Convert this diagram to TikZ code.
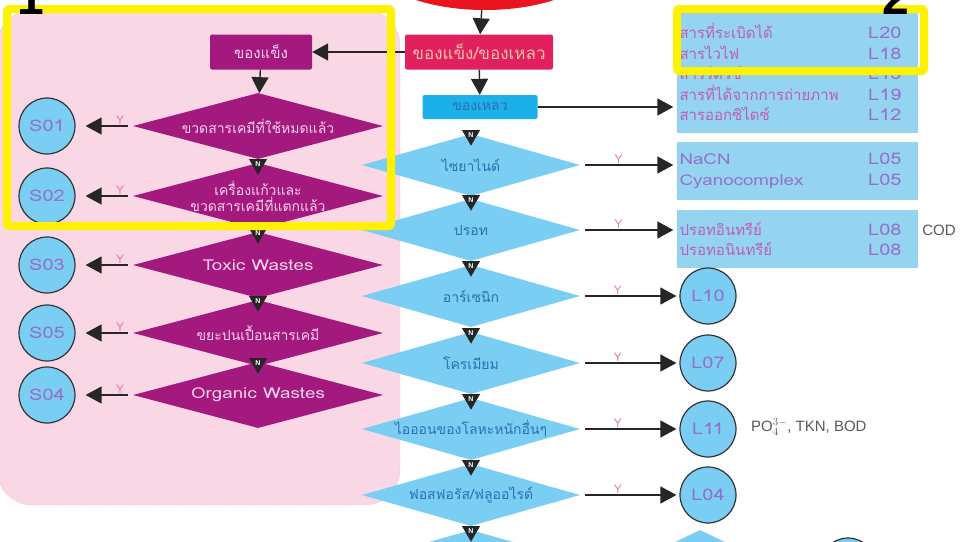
\documentclass[tikz,border=0pt]{standalone}
\usepackage{fontspec}
\setmainfont{Liberation Sans}
\newfontfamily\thai[Script=Thai]{Loma}
\newfontfamily\wide[FakeStretch=1.25]{Loma}
\usetikzlibrary{shapes.geometric,arrows.meta,calc}
\definecolor{pinkbg}{HTML}{F9D7E5}
\definecolor{plum}{HTML}{A3197E}
\definecolor{blush}{HTML}{F6D2EC}
\definecolor{crimson}{HTML}{E2205E}
\definecolor{peach}{HTML}{F8C2A8}
\definecolor{fire}{HTML}{E8151E}
\definecolor{cyanbox}{HTML}{1CB0EA}
\definecolor{skyfill}{HTML}{7ACEF4}
\definecolor{panel}{HTML}{94D4F1}
\definecolor{inkblue}{HTML}{2E6FB0}
\definecolor{inkpink}{HTML}{BE5DB8}
\definecolor{codeink}{HTML}{9470CA}
\definecolor{ypink}{HTML}{E07DB3}
\definecolor{marker}{HTML}{FFF200}
\tikzset{
  flow/.style={->,line width=1.4pt,black!85},
  tag/.style={rounded corners=2pt,inner sep=0pt,font=\thai\fontsize{15}{15}\selectfont},
  plumdia/.style={diamond,fill=plum,minimum width=250pt,minimum height=66pt,inner sep=0pt},
  skydia/.style={diamond,fill=skyfill,minimum width=218pt,minimum height=62pt,inner sep=0pt},
  plumtext/.style={text=blush,align=center,font=\thai\fontsize{14}{16}\selectfont},
  skytext/.style={text=inkblue,align=center,font=\thai\fontsize{14}{16}\selectfont},
  bin/.style={circle,draw=black!80,line width=1.2pt,fill=skyfill,minimum size=56pt,inner sep=0pt,text=codeink,font=\wide\fontsize{16}{16}\selectfont},
  nmark/.style={regular polygon,regular polygon sides=3,shape border rotate=180,fill=black!85,text=white,minimum size=21pt,inner sep=0pt,font=\bfseries\fontsize{7}{7}\selectfont},
  ylab/.style={text=ypink,inner sep=1pt,font=\thai\fontsize{12}{12}\selectfont},
  panelbox/.style={fill=panel,inner xsep=0pt,text width=241pt,align=left,text=inkpink,font=\thai\fontsize{15}{20.5}\selectfont},
  note/.style={text=black!65,inner sep=0pt,font=\fontsize{15}{15}\selectfont},
  digit/.style={inner sep=0pt,font=\bfseries\fontsize{48}{48}\selectfont}
}
\begin{document}
\begin{tikzpicture}[x=1pt,y=-1pt,>={Triangle[length=16pt,width=17pt]},line join=round]
\def\cd#1{\hskip 0pt plus 1fill{\wide\fontsize{16}{20.5}\selectfont\textcolor{codeink}{#1}}}
\def\lat#1{{\wide\fontsize{15}{20.5}\selectfont\textcolor{codeink}{#1}}}
\useasboundingbox (0,0) rectangle (961,541);
\clip (0,0) rectangle (961,541);
\fill[white] (0,0) rectangle (961,541);
\draw[black!35,dotted,fill=pinkbg,rounded corners=35pt] (-3,10) rectangle (400,505);

\node[ellipse,fill=fire,minimum width=230pt,minimum height=100pt] (src) at (485,-40) {};
\node[tag,fill=crimson,text=peach,minimum width=148pt,minimum height=35pt,font=\thai\fontsize{17}{17}\selectfont] (mix) at (479,52) {ของแข็ง/ของเหลว};
\node[tag,fill=plum,text=blush,minimum width=102pt,minimum height=35pt] (solid) at (261,52) {ของแข็ง};
\node[tag,fill=cyanbox,text=inkblue,minimum width=115pt,minimum height=24pt,font=\thai\fontsize{14}{14}\selectfont] (liquid) at (480,107) {ของเหลว};
\draw[flow] (src) -- (mix);
\draw[flow] (mix) -- (solid);
\draw[flow] (mix) -- (liquid);

\foreach \i/\y/\code/\txt in {1/126/S01/{ขวดสารเคมีที่ใช้หมดแล้ว},2/196/S02/{เครื่องแก้วและ\\ขวดสารเคมีที่แตกแล้ว},3/265/S03/{\wide\fontsize{15}{16}\selectfont Toxic Wastes},4/333/S05/{ขยะปนเปื้อนสารเคมี},5/395/S04/{\wide\fontsize{15}{16}\selectfont Organic Wastes}}{
  \node[plumdia,label={[plumtext]center:\txt}] (p\i) at (258,\y) {};
  \node[bin] (s\i) at (47,\y) {\code};
  \draw[flow,shorten <=5pt,shorten >=10pt] (p\i) -- (s\i) node[ylab,pos=.22,above] {Y};
}
\foreach \i in {2,...,5}
  \node[nmark,anchor=north] (pn\i) at ([yshift=4pt]p\i.north) {N};
\draw[flow] (solid) -- (p1);

\foreach \i/\y/\txt in {1/165/ไซยาไนด์,2/230/ปรอท,3/296/อาร์เซนิก,4/363/โครเมียม,5/429/ไอออนของโลหะหนักอื่นๆ,6/495/{ฟอสฟอรัส/ฟลูออไรด์},7/561/{}}
  \node[skydia,label={[skytext]center:\txt}] (c\i) at (471,\y) {};
\foreach \i in {1,...,7}
  \node[nmark,anchor=north] (cn\i) at ([yshift=4pt]c\i.north) {N};

\node[panelbox,minimum height=122pt] (r1) at (797,72) {\leftskip3pt\rightskip16pt plus 1fil%
  สารที่ระเบิดได้\cd{L20}\\สารไวไฟ\cd{L18}\\สารรีดิวซ์\cd{L13}\\สารที่ได้จากการถ่ายภาพ\cd{L19}\\สารออกซิไดซ์\cd{L12}\par};
\node[panelbox,minimum height=58pt] (r2) at (797,171) {\leftskip3pt\rightskip16pt plus 1fil%
  \lat{NaCN}\cd{L05}\\\lat{Cyanocomplex}\cd{L05}\par};
\node[panelbox,minimum height=58pt] (r3) at (797,239) {\leftskip3pt\rightskip16pt plus 1fil%
  ปรอทอินทรีย์\cd{L08}\\ปรอทอนินทรีย์\cd{L08}\par};
\node[note] (cod) at (939,230) {COD};
\draw[flow,shorten >=3pt] (liquid) -- (liquid -| r1.west);
\draw[flow,shorten <=5pt,shorten >=3pt] (c1) -- (c1 -| r2.west) node[ylab,pos=.4,above] {Y};
\draw[flow,shorten <=5pt,shorten >=3pt] (c2) -- (c2 -| r3.west) node[ylab,pos=.4,above] {Y};

\foreach \i/\y/\code in {3/296/L10,4/363/L07,5/429/L11,6/495/L04}{
  \node[bin] (l\i) at (708,\y) {\code};
  \draw[flow,shorten <=5pt,shorten >=3pt] (c\i) -- (l\i) node[ylab,pos=.38,above] {Y};
}
\node[note,anchor=west] (nut) at (751,427) {PO$_4^{3-}$, TKN, BOD};

\node[skydia,minimum width=150pt,minimum height=72pt] (c8) at (700,566) {};
\node[bin] (l8) at (848,566) {};
\draw[flow,shorten <=5pt,shorten >=3pt] (c7) -- (c8) node[ylab,pos=.4,above] {Y};
\draw[flow,shorten <=5pt,shorten >=3pt] (c8) -- (l8) node[ylab,pos=.4,above] {Y};

\draw[marker,line width=8pt,rounded corners=2pt] (7,9) rectangle (391,226);
\draw[marker,line width=8pt,rounded corners=2pt] (677,9) rectangle (924,71);
\node[digit,anchor=base west] (one) at (17.5,14) {1};
\node[digit,anchor=base west] (two) at (882,14) {2};
\end{tikzpicture}
\end{document}
